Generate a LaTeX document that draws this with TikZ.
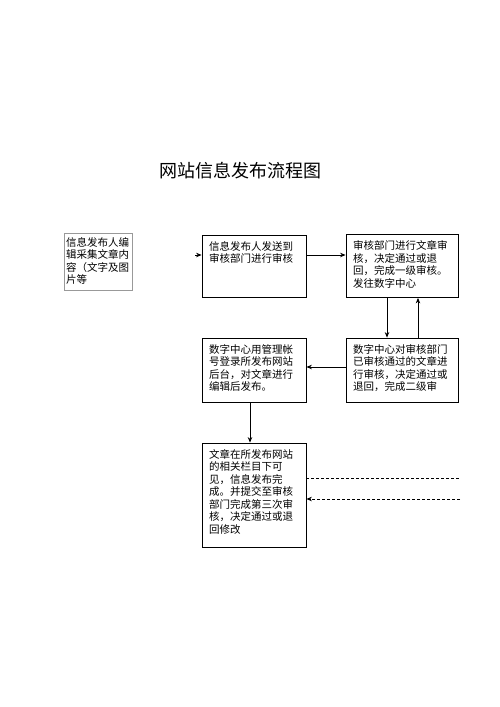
\documentclass[tikz,border=0pt]{standalone}
\usepackage{fontspec}
\newfontfamily\cjk{Noto Sans CJK SC}
\usetikzlibrary{positioning,arrows.meta}

\begin{document}
\begin{tikzpicture}[x=1pt,y=-1pt,>={Stealth[length=5.5pt,width=4.5pt]},on grid,
   box/.style={draw,line width=0.8pt,text width=90pt,align=left,inner xsep=7pt,inner ysep=6pt,
     text height=9pt,font=\cjk\fontsize{10.5pt}{12.5pt}\selectfont},
   wide/.style={box,text width=98pt},
   note/.style={box,draw=gray!80,text width=64pt,inner xsep=2pt,inner ysep=4pt}]
   \useasboundingbox (0,0) rectangle (500,707);
   \node[font=\cjk\fontsize{18pt}{20pt}\selectfont] (title) at (240.5,171) {网站信息发布流程图};
   \node[note,text depth=40pt] (src) at (98,261.5)
     {信息发布人编\\辑采集文章内\\容（文字及图\\片等};
   \node[box,text depth=41pt] (send) at (254,266)
     {信息发布人发送到\\审核部门进行审核};
   \node[wide,text depth=42pt] (rev1) [right=148pt of send]
     {审核部门进行文章审\\核，决定通过或退\\回，完成一级审核。\\发往数字中心};
   \node[box,text depth=43pt] (pub) [below=104pt of send]
     {数字中心用管理帐\\号登录所发布网站\\后台，对文章进行\\编辑后发布。};
   \node[wide,text depth=43pt] (rev2) [right=148pt of pub]
     {数字中心对审核部门\\已审核通过的文章进\\行审核，决定通过或\\退回，完成二级审};
   \node[box,text depth=83pt] (done) [below=125pt of pub]
     {文章在所发布网站\\的相关栏目下可\\见，信息发布完\\成。并提交至审核\\部门完成第三次审\\核，决定通过或退\\回修改};
   \coordinate (in) at (195,255);
   \coordinate (out1) at (460,478);
   \coordinate (out2) at (460,499);
    \path[->,line width=0.8pt]
    (in) edge (in -| send.west)
    ([yshift=11pt]send.east) edge ([yshift=11pt]send.east -| rev1.west)
    ([xshift=-15pt]rev1.south) edge ([xshift=-15pt]rev2.north)
    ([xshift=16pt]rev2.north) edge ([xshift=16pt]rev1.south)
    ([yshift=3pt]rev2.west) edge ([yshift=3pt]pub.east)
    ([xshift=-4pt]pub.south) edge ([xshift=-4pt]done.north)
    ([yshift=17pt]done.east) edge [-,dash pattern=on 3pt off 2pt] (out1)
    (out2) edge [dash pattern=on 3pt off 2pt] ([yshift=-4pt]done.east);
\end{tikzpicture}
\end{document}
